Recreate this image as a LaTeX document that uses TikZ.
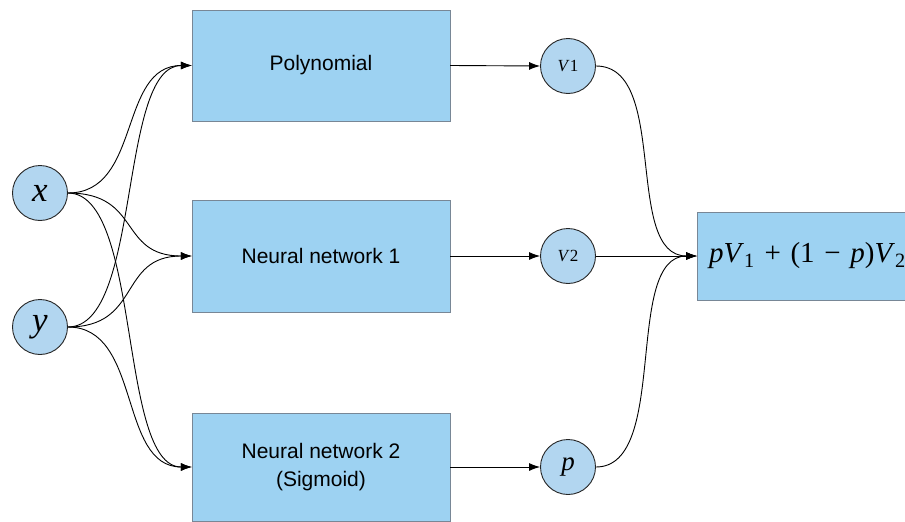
\documentclass[tikz,border=0pt]{standalone}
\usepackage{fontspec}
\setmainfont{Liberation Sans}
\newfontfamily\serifvar{Liberation Serif}
\usepackage{tikz}
\usetikzlibrary{arrows.meta,%
                shapes,positioning}
\definecolor{boxblue}{RGB}{157,210,242}
\definecolor{boxline}{RGB}{120,135,150}
\definecolor{varblue}{RGB}{178,214,240}
\tikzset{modelbox/.style={draw=boxline, fill=boxblue, rectangle, minimum width=258pt,
                          font=\fontsize{21}{28}\selectfont, align=center},
         varnode/.style={draw=black!85, fill=varblue, circle, minimum size=55pt,
                         inner sep=0pt, line width=0.9pt},
         flow/.style={-{Latex[length=11pt,width=8pt]}, line width=0.9pt},
         curvy/.style={out=0, in=180, distance=74pt}}

\begin{document}
\begin{tikzpicture}[x=1pt,y=-1pt]
\useasboundingbox (0,0) rectangle (905,522);
\node[varnode, font=\serifvar\itshape\fontsize{35}{35}\selectfont] (x) at (40,193) {x};
\node[varnode, font=\serifvar\itshape\fontsize{35}{35}\selectfont] (y) at (40,327) {y};
\node[modelbox, minimum height=111pt] (poly) at (321,65.5) {Polynomial};
\node[modelbox, minimum height=112pt] (nn1) at (321,256) {Neural network 1};
\node[modelbox, minimum height=108pt] (nn2) at (321,467) {Neural network 2\\(Sigmoid)};
\node[varnode, font=\serifvar\fontsize{17}{17}\selectfont] (v1) at (568,66) {\textit{V}1};
\node[varnode, font=\serifvar\fontsize{17}{17}\selectfont] (v2) at (568,256) {\textit{V}2};
\node[varnode, font=\serifvar\itshape\fontsize{27}{27}\selectfont] (p) at (568,467) {p};
\node[draw=boxline, fill=boxblue, rectangle, anchor=west, minimum height=88pt,
      text width=236pt, inner xsep=12pt, align=left,
      font=\serifvar\fontsize{29}{29}\selectfont] (mix) at (697,256)
      {\textit{p}\textit{V}\textsubscript{1} + (1 − \textit{p})\textit{V}\textsubscript{2}};
\draw[flow] (x.east) to[curvy] (poly.west);
\draw[flow] (x.east) to[curvy] (nn1.west);
\draw[flow] (x.east) to[curvy] (nn2.west);
\draw[flow] (y.east) to[curvy] (poly.west);
\draw[flow] (y.east) to[curvy] (nn1.west);
\draw[flow] (y.east) to[curvy] (nn2.west);
\draw[flow] (poly.east) -- (v1.west);
\draw[flow] (nn1.east) -- (v2.west);
\draw[flow] (nn2.east) -- (p.west);
\draw[flow] (v1.east) to[curvy] (mix.west);
\draw[flow] (v2.east) -- (mix.west);
\draw[flow] (p.east) to[curvy] (mix.west);
\end{tikzpicture}
\end{document}
